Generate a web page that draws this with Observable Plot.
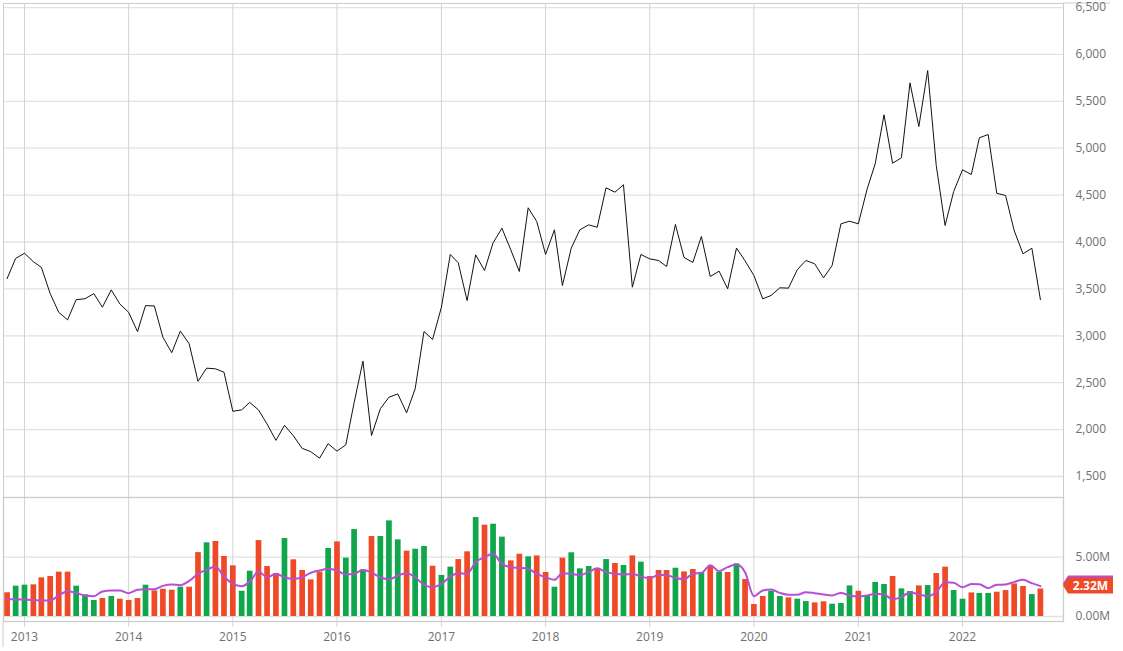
<!DOCTYPE html>
<html>
<head>
<meta charset="utf-8">
<script src="https://cdn.jsdelivr.net/npm/d3@7"></script>
<script src="https://cdn.jsdelivr.net/npm/@observablehq/plot@0.6"></script>
<style>
  html, body { margin: 0; padding: 0; background: #fff; overflow: hidden; }
  #wrap { position: relative; width: 1123px; height: 651px; overflow: hidden; font-family: "Open Sans", sans-serif; }
  #wrap svg { position: absolute; left: 0; overflow: visible; background: transparent; }
</style>
</head>
<body>
<div id="wrap"></div>
<script>
// ---------------- DATA ----------------
const months = [
  "2012-11","2012-12",
  "2013-01","2013-02","2013-03","2013-04","2013-05","2013-06","2013-07","2013-08","2013-09","2013-10","2013-11","2013-12",
  "2014-01","2014-02","2014-03","2014-04","2014-05","2014-06","2014-07","2014-08","2014-09","2014-10","2014-11","2014-12",
  "2015-01","2015-02","2015-03","2015-04","2015-05","2015-06","2015-07","2015-08","2015-09","2015-10","2015-11","2015-12",
  "2016-01","2016-02","2016-03","2016-04","2016-05","2016-06","2016-07","2016-08","2016-09","2016-10","2016-11","2016-12",
  "2017-01","2017-02","2017-03","2017-04","2017-05","2017-06","2017-07","2017-08","2017-09","2017-10","2017-11","2017-12",
  "2018-01","2018-02","2018-03","2018-04","2018-05","2018-06","2018-07","2018-08","2018-09","2018-10","2018-11","2018-12",
  "2019-01","2019-02","2019-03","2019-04","2019-05","2019-06","2019-07","2019-08","2019-09","2019-10","2019-11","2019-12",
  "2020-01","2020-02","2020-03","2020-04","2020-05","2020-06","2020-07","2020-08","2020-09","2020-10","2020-11","2020-12",
  "2021-01","2021-02","2021-03","2021-04","2021-05","2021-06","2021-07","2021-08","2021-09","2021-10","2021-11","2021-12",
  "2022-01","2022-02","2022-03","2022-04","2022-05","2022-06","2022-07","2022-08","2022-09","2022-10"
];

const price = [
  3610, 3825,
  3880, 3790, 3730, 3450, 3250, 3170, 3385, 3395, 3450, 3305, 3490, 3340,
  3250, 3045, 3322, 3318, 2985, 2820, 3050, 2915, 2515, 2655, 2648, 2612,
  2195, 2210, 2290, 2210, 2060, 1885, 2045, 1935, 1800, 1765, 1695, 1850,
  1770, 1838, 2286, 2730, 1937, 2222, 2345, 2381, 2179, 2435, 3046, 2961,
  3305, 3867, 3778, 3376, 3863, 3696, 3991, 4147, 3917, 3686, 4365, 4219,
  3867, 4130, 3536, 3935, 4130, 4183, 4158, 4578, 4531, 4610, 3518, 3867,
  3820, 3803, 3739, 4187, 3836, 3782, 4059, 3632, 3689, 3501, 3935, 3800,
  3643, 3394, 3430, 3512, 3508, 3704, 3803, 3768, 3618, 3749, 4194, 4222,
  4194, 4567, 4833, 5356, 4840, 4898, 5697, 5231, 5828, 4816, 4176, 4538,
  4770, 4720, 5111, 5146, 4520, 4496, 4123, 3874, 3934, 3387
];

// monthly volume, millions
const volume = [
  2.00, 2.56,
  2.64, 2.67, 3.26, 3.37, 3.74, 3.74, 2.56, 1.83, 1.35, 1.52, 1.69, 1.46,
  1.35, 1.52, 2.64, 2.16, 2.30, 2.22, 2.47, 2.47, 5.39, 6.21, 6.32, 5.06,
  4.27, 2.13, 3.82, 6.40, 4.21, 3.62, 6.57, 4.78, 3.88, 3.09, 3.74, 5.73,
  6.29, 4.92, 7.33, 3.93, 6.74, 6.74, 8.06, 6.46, 5.51, 5.67, 5.90, 4.24,
  3.46, 4.16, 4.80, 5.45, 8.34, 7.70, 7.78, 6.69, 4.69, 5.25, 5.03, 5.11,
  3.71, 2.47, 4.92, 5.37, 4.02, 4.21, 4.04, 4.80, 4.47, 4.30, 5.11, 4.58,
  3.37, 3.88, 3.88, 4.07, 3.76, 3.96, 3.65, 4.21, 3.74, 3.71, 4.44, 3.12,
  1.01, 1.69, 2.13, 1.69, 1.57, 1.46, 1.26, 1.15, 1.24, 1.04, 1.10, 2.58,
  2.13, 1.69, 2.87, 2.70, 3.37, 2.33, 2.11, 2.58, 2.61, 3.62, 4.16, 2.19,
  1.46, 1.99, 1.94, 1.94, 2.05, 2.19, 2.75, 2.53, 1.85, 2.32
];

// volume moving average (purple line), millions
const volumeMA = [
  1.46, 1.46,
  1.43, 1.40, 1.35, 1.35, 1.77, 2.13, 1.99, 1.77, 1.71, 2.11, 2.19, 2.19,
  1.97, 2.25, 2.30, 2.30, 2.58, 2.70, 2.64, 3.00, 3.60, 3.93, 4.21, 3.37,
  2.75, 2.56, 2.92, 3.79, 3.31, 3.60, 3.31, 3.17, 3.31, 3.68, 3.88, 4.02,
  3.88, 3.54, 3.60, 3.93, 3.70, 3.31, 3.12, 3.46, 3.65, 3.31, 2.67, 2.47,
  2.75, 3.37, 3.65, 3.60, 4.58, 5.00, 5.28, 4.44, 4.16, 4.10, 4.02, 3.60,
  3.31, 3.09, 3.65, 3.60, 3.48, 3.74, 4.07, 3.74, 3.60, 3.54, 3.60, 3.37,
  3.23, 3.51, 3.48, 3.26, 3.12, 3.60, 3.68, 4.33, 3.82, 4.16, 4.38, 3.74,
  1.71, 2.19, 2.28, 1.99, 1.83, 1.83, 2.05, 1.97, 1.85, 1.77, 1.99, 1.77,
  1.69, 1.77, 1.91, 1.85, 1.46, 1.63, 2.05, 1.85, 1.72, 2.05, 2.89, 2.84,
  2.47, 2.75, 2.72, 2.39, 2.67, 2.70, 2.92, 3.09, 2.81, 2.56
];

// bar colour per month: u = closed up (green), d = closed down (red)
const directionByYear = [
  "du",           // 2012 (Nov-Dec)
  "uddddduuudud", // 2013
  "dduddduddudd", // 2014
  "duuddduddddu", // 2015
  "duuuduuuduud", // 2016
  "uudduduuddud", // 2017
  "duduuudududu", // 2018
  "ddduddududud", // 2019
  "dduuduudduuu", // 2020
  "duuuduududdu", // 2021
  "uduuddddud"    // 2022 (Jan-Oct)
];

const yearTicks = [2013, 2014, 2015, 2016, 2017, 2018, 2019, 2020, 2021, 2022];
const priceTicks = [1500, 2000, 2500, 3000, 3500, 4000, 4500, 5000, 5500, 6000, 6500];
const volumeTicks = [0, 5];
const lastVolumeLabel = "2.32M";

// ---------------- STYLE ----------------
const GREEN = "#0fa64c";
const RED = "#ef4a28";
const PURPLE = "#b64fd3";
const GRID_H = "#e2e2e2";
const GRID_V = "#d4d4d4";
const BORDER = "#cccccc";
const LABEL = "#707070";

const W = 1123;
const priceH = 497;
const volH = 154;

// ---------------- BUILD ----------------
const parse = d3.utcParse("%Y-%m");
const dirs = directionByYear.join("").split("");
const rows = months.map((m, i) => ({
  date: parse(m),
  price: price[i],
  vol: volume[i],
  ma: volumeMA[i],
  dir: dirs[i] === "u" ? "up" : "down"
}));
const yearDates = yearTicks.map(y => new Date(Date.UTC(y, 0, 1)));

// x domain so that year gridlines land where the reference puts them
const t13 = Date.UTC(2013, 0, 1), t22 = Date.UTC(2022, 0, 1);
const k = (962 - 24) / (t22 - t13);
const xDomain = [new Date(t13 - (24 - 3) / k), new Date(t22 + (1063 - 962) / k)];

const baseStyle = {
  fontFamily: "'Open Sans', sans-serif",
  fontSize: "12px",
  color: LABEL,
  background: "transparent",
  overflow: "visible"
};

const priceChart = Plot.plot({
  width: W,
  height: priceH,
  marginLeft: 3,
  marginRight: 60,
  marginTop: 3,
  marginBottom: 0,
  style: baseStyle,
  x: { type: "utc", domain: xDomain, axis: null },
  y: { domain: [1276, 6543], axis: null },
  marks: [
    Plot.ruleY(priceTicks, { stroke: GRID_H, strokeWidth: 1.3 }),
    Plot.ruleX(yearDates, { stroke: GRID_V, strokeWidth: 1 }),
    Plot.frame({ stroke: BORDER, strokeWidth: 1 }),
    Plot.line(rows, { x: "date", y: "price", stroke: "#111", strokeWidth: 1 }),
    Plot.axisY(priceTicks, {
      anchor: "right",
      label: null,
      tickSize: 0,
      tickPadding: 12,
      tickFormat: d3.format(","),
      fill: LABEL,
      fontSize: 12
    })
  ]
});

const volChart = Plot.plot({
  width: W,
  height: volH,
  marginLeft: 3,
  marginRight: 60,
  marginTop: 0,
  marginBottom: 30,
  style: baseStyle,
  x: { type: "utc", domain: xDomain, axis: null },
  y: { domain: [-0.42, 10.03], axis: null },
  color: { domain: ["up", "down"], range: [GREEN, RED] },
  marks: [
    Plot.ruleY(volumeTicks, { stroke: GRID_H, strokeWidth: 1.3 }),
    Plot.ruleX(yearDates, { stroke: GRID_V, strokeWidth: 1 }),
    Plot.frame({ stroke: BORDER, strokeWidth: 1.3 }),
    Plot.ruleX(rows, { x: "date", y1: 0, y2: "vol", stroke: "dir", strokeWidth: 5.7 }),
    Plot.line(rows, { x: "date", y: "ma", stroke: PURPLE, strokeWidth: 2, curve: "monotone-x" }),
    Plot.axisY(volumeTicks, {
      anchor: "right",
      label: null,
      tickSize: 0,
      tickPadding: 12,
      tickFormat: d => d.toFixed(2) + "M",
      fill: LABEL,
      fontSize: 12
    }),
    Plot.axisX(yearDates, {
      anchor: "bottom",
      label: null,
      tickSize: 6,
      tickPadding: 5,
      stroke: GRID_V,
      tickFormat: d3.utcFormat("%Y"),
      fill: LABEL,
      fontSize: 12
    })
  ]
});

const wrap = document.getElementById("wrap");
priceChart.style.top = "0px";
volChart.style.top = priceH + "px";
wrap.appendChild(priceChart);
wrap.appendChild(volChart);

// extensions of the outer border seen in the reference (top rule into the axis gutter, left rule below the panel)
const pys = priceChart.scale("y");
const pxs = priceChart.scale("x");
d3.select(priceChart).insert("line", ":first-child")
  .attr("x1", pxs.range[1]).attr("x2", pxs.range[1] + 47)
  .attr("y1", pys.range[1]).attr("y2", pys.range[1])
  .attr("stroke", BORDER);

// last-value tag in the volume panel (positioned by Plot's own scales)
const ys = volChart.scale("y");
const xs = volChart.scale("x");
const xEdge = xs.range[1];
const svg = d3.select(volChart);
svg.insert("line", ":first-child")
  .attr("x1", xs.range[0]).attr("x2", xs.range[0])
  .attr("y1", ys.range[0]).attr("y2", ys.range[0] + 26)
  .attr("stroke", BORDER);
const lastVol = volume[volume.length - 1];
const cy = ys.apply(lastVol) - 3;
function tag(c, fill) {
  const h = 8;
  return svg.append("polygon")
    .attr("points", [[xEdge, c], [xEdge + 5, c - h], [xEdge + 50, c - h], [xEdge + 50, c + h], [xEdge + 5, c + h]].map(p => p.join(",")).join(" "))
    .attr("fill", fill);
}
tag(cy - 2, PURPLE);
tag(cy, RED);
svg.append("text")
  .attr("x", xEdge + 27.5)
  .attr("y", cy)
  .attr("dy", "0.35em")
  .attr("text-anchor", "middle")
  .attr("fill", "#fff")
  .attr("font-weight", "bold")
  .attr("font-size", 12)
  .attr("font-family", "'Open Sans', sans-serif")
  .text(lastVolumeLabel);
</script>
</body>
</html>
